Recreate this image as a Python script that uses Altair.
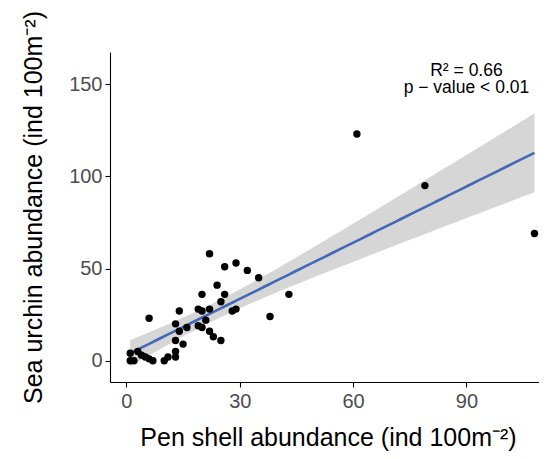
import altair as alt
import numpy as np
import pandas as pd

# Data
pen_shell = [22, 26, 29, 32, 35, 24, 20, 26, 25, 43, 14, 19, 20, 22, 28,
             29, 6, 38, 21, 13, 19, 20, 16, 14, 22, 23, 25, 13, 15, 13,
             13, 11, 10, 7, 6, 5, 4, 3, 1, 1, 2, 61, 79, 108]
sea_urchin = [58, 51, 53, 49, 45, 41, 36, 36, 32, 36, 27, 28, 27, 28, 27,
              28, 23, 24, 22, 20, 19, 18, 18, 16, 16, 13, 11, 11, 9, 5,
              2, 2, 0, 0, 1, 2, 3, 5, 4, 0, 0, 123, 95, 69]

x_ticks = [0, 30, 60, 90]
y_ticks = [0, 50, 100, 150]
annot_text = ["R² = 0.66\np − value < 0.01"]
annot_x = [90]
annot_y = [154.5]

FONT = "Liberation Sans"

pts = pd.DataFrame({"pen": pen_shell, "urchin": sea_urchin})

# Linear fit with 95% confidence band (like geom_smooth(method = "lm"))
X = np.array(pen_shell, dtype=float)
Y = np.array(sea_urchin, dtype=float)
n = len(X)
b1, b0 = np.polyfit(X, Y, 1)
resid = Y - (b0 + b1 * X)
s = np.sqrt(np.sum(resid ** 2) / (n - 2))
xbar = X.mean()
sxx = np.sum((X - xbar) ** 2)
t_crit = 2.018
xs = np.linspace(X.min(), X.max(), 80)
fit = b0 + b1 * xs
se = s * np.sqrt(1.0 / n + (xs - xbar) ** 2 / sxx)
band = pd.DataFrame({"pen": xs, "fit": fit, "lo": fit - t_crit * se, "hi": fit + t_crit * se})

annot = pd.DataFrame({"x": annot_x, "y": annot_y, "t": annot_text})

xscale = alt.Scale(domain=[-4.35, 109.2], nice=False, zero=False)
yscale = alt.Scale(domain=[-11.56, 167.5], nice=False, zero=False)

xaxis = alt.Axis(values=x_ticks, title="Pen shell abundance (ind 100m⁻²)",
                 titleY=63, titleBaseline="alphabetic", titleX=218)
yaxis = alt.Axis(values=y_ticks, title="Sea urchin abundance (ind 100m⁻²)",
                 titleX=-69, titleY=155, titleBaseline="alphabetic", titleAngle=-90)

area = alt.Chart(band).mark_area(color="#999999", opacity=0.4).encode(
    x=alt.X("pen:Q", scale=xscale, axis=xaxis),
    y=alt.Y("lo:Q", scale=yscale, axis=yaxis),
    y2="hi:Q",
)
line = alt.Chart(band).mark_line(color="#4368B5", strokeWidth=2.6).encode(
    x=alt.X("pen:Q", scale=xscale),
    y=alt.Y("fit:Q", scale=yscale),
)
points = alt.Chart(pts).mark_circle(color="black", opacity=1, size=55).encode(
    x=alt.X("pen:Q", scale=xscale),
    y=alt.Y("urchin:Q", scale=yscale),
)
text = alt.Chart(annot).mark_text(font=FONT, fontSize=17.5, align="center",
                                  baseline="alphabetic", color="black",
                                  lineBreak="\n", lineHeight=17.5).encode(
    x=alt.X("x:Q", scale=xscale),
    y=alt.Y("y:Q", scale=yscale),
    text="t:N",
)

chart = alt.layer(area, line, points, text).properties(
    width=429, height=330,
    autosize=alt.AutoSizeParams(type="none"),
    padding={"left": 102, "top": 44, "right": 0, "bottom": 69},
).configure_view(stroke=None).configure_axis(
    grid=False,
    domainColor="black", domainWidth=1.1,
    tickColor="black", tickWidth=1.1, tickSize=5,
    labelColor="#4D4D4D", labelFont=FONT, labelFontSize=20, labelPadding=3,
    titleColor="black", titleFont=FONT, titleFontSize=25, titleFontWeight="normal",
).configure_axisX(labelPadding=4)

chart.save("out.html", embed_options={"renderer": "svg", "actions": False})
